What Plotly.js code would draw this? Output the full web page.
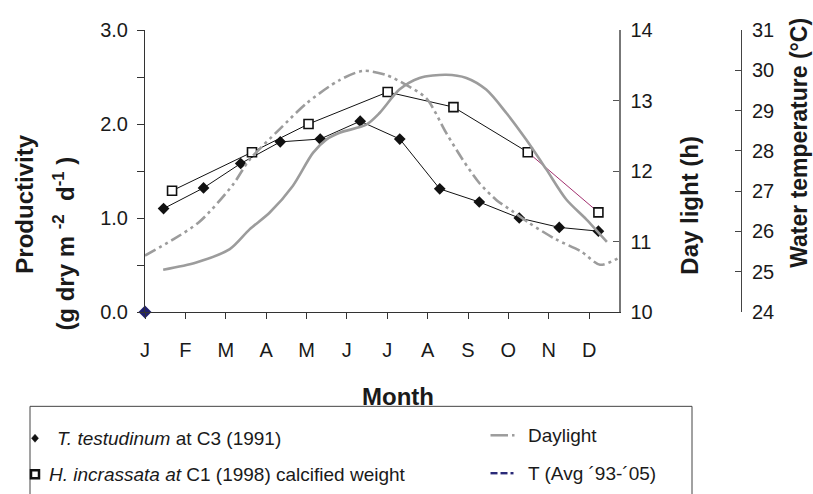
<!DOCTYPE html>
<html>
<head>
<meta charset="utf-8">
<script src="https://cdn.plot.ly/plotly-3.0.1.min.js"></script>
<style>html,body{margin:0;padding:0;background:#fff;}#chart{width:813px;height:494px;}</style>
</head>
<body>
<div id="chart"></div>
<script>
// ---- data (month index units: 0 = start of January) ----
const monthLabels = ['J','F','M','A','M','J','J','A','S','O','N','D'];
const monthTicks = [0,1,2,3,4,5,6,7,8,9,10,11];

const ttMonth = [0.46,1.45,2.37,3.35,4.34,5.33,6.31,7.30,8.28,9.27,10.26,11.23];
const ttProd  = [1.10,1.32,1.58,1.81,1.84,2.03,1.84,1.31,1.17,1.00,0.90,0.86];

const hiMonth = [0.67,2.65,4.05,6.01,7.64,9.48,11.23];
const hiProd  = [1.29,1.70,2.00,2.34,2.18,1.70,1.06];

const dayMonth = [0,0.7,1.35,2.17,2.59,3.33,4.0,4.82,5.4,5.98,6.47,6.97,7.46,7.87,8.28,8.7,9.1,9.52,10.18,10.8,11.27,11.74];
const dayHours = [10.80,11.03,11.28,11.80,12.16,12.59,12.96,13.29,13.42,13.36,13.22,13.03,12.54,12.16,11.83,11.59,11.43,11.26,11.03,10.86,10.67,10.77];

const tempMonth = [0.45,1.27,2.1,2.59,3.09,3.66,4.16,4.49,4.82,5.48,5.81,6.3,6.8,7.46,7.96,8.45,8.95,9.44,9.94,10.43,10.93,11.44];
const tempC     = [25.05,25.23,25.56,26.05,26.47,27.13,27.95,28.28,28.45,28.65,28.94,29.52,29.81,29.89,29.81,29.52,28.94,28.28,27.54,26.8,26.3,25.74];

const strayMonth = [0];
const strayProd = [0];

const prodTicks = [0,0.5,1,1.5,2,2.5,3];
const prodTickText = ['0.0',' ','1.0',' ','2.0',' ','3.0'];

// ---- layout helpers ----
const W = 813, H = 494;
const L = 145, PR = 619, AX3 = 741, T = 30, B = 312.5;
const xp = px => (px - L) / (AX3 - L);
const yp = py => (B - py) / (B - T);

const FONT = 'Arial, "Liberation Sans", sans-serif';
const txt = '#1a1a1a';
const gray = '#9c9c9c';

const nH = hiMonth.length;
const traces = [
  {x: ttMonth, y: ttProd, type: 'scatter', mode: 'lines+markers', xaxis: 'x', yaxis: 'y',
   line: {color: '#111', width: 1}, marker: {symbol: 'diamond', size: 9, color: '#111'}},
  {x: hiMonth.slice(0, nH - 1), y: hiProd.slice(0, nH - 1), type: 'scatter', mode: 'lines', xaxis: 'x', yaxis: 'y',
   line: {color: '#111', width: 1}},
  {x: hiMonth.slice(nH - 2), y: hiProd.slice(nH - 2), type: 'scatter', mode: 'lines', xaxis: 'x', yaxis: 'y',
   line: {color: '#a3306f', width: 1}},
  {x: hiMonth, y: hiProd, type: 'scatter', mode: 'markers', xaxis: 'x', yaxis: 'y',
   marker: {symbol: 'square', size: 9, color: '#fff', line: {color: '#111', width: 1.6}}},
  {x: strayMonth, y: strayProd, type: 'scatter', mode: 'markers', xaxis: 'x', yaxis: 'y', cliponaxis: false,
   marker: {symbol: 'diamond', size: 10, color: '#1f1f6e'}},
  {x: dayMonth, y: dayHours, type: 'scatter', mode: 'lines', xaxis: 'x', yaxis: 'y2',
   line: {color: gray, width: 2.6, shape: 'spline', smoothing: 0.8, dash: '12px,4px,3px,4px,3px,4px'}},
  {x: tempMonth, y: tempC, type: 'scatter', mode: 'lines', xaxis: 'x', yaxis: 'y3',
   line: {color: gray, width: 2.6, shape: 'spline', smoothing: 0.8}}
];

const shapes = [
  // legend box
  {type: 'rect', xref: 'paper', yref: 'paper', x0: xp(30), x1: xp(692), y0: yp(407), y1: yp(520),
   line: {color: '#444', width: 1}, fillcolor: 'rgba(0,0,0,0)'},
  // diamond symbol
  {type: 'path', xref: 'paper', yref: 'paper',
   path: `M ${xp(35)} ${yp(435)} L ${xp(38.5)} ${yp(439)} L ${xp(35)} ${yp(443)} L ${xp(31.5)} ${yp(439)} Z`,
   fillcolor: '#111', line: {color: '#111', width: 0.5}},
  // square symbol
  {type: 'rect', xref: 'paper', yref: 'paper', x0: xp(31), x1: xp(39), y0: yp(479), y1: yp(471),
   fillcolor: '#fff', line: {color: '#111', width: 2.5}},
  // daylight symbol
  {type: 'line', xref: 'paper', yref: 'paper', x0: xp(490.5), x1: xp(508), y0: yp(436), y1: yp(436),
   line: {color: gray, width: 2.5}},
  {type: 'line', xref: 'paper', yref: 'paper', x0: xp(512), x1: xp(514.5), y0: yp(436), y1: yp(436),
   line: {color: gray, width: 2.5}},
  // T symbol
  {type: 'line', xref: 'paper', yref: 'paper', x0: xp(490.5), x1: xp(497.5), y0: yp(474), y1: yp(474),
   line: {color: '#2a2a78', width: 2.4}},
  {type: 'line', xref: 'paper', yref: 'paper', x0: xp(500.5), x1: xp(507.5), y0: yp(474), y1: yp(474),
   line: {color: '#2a2a78', width: 2.4}},
  {type: 'line', xref: 'paper', yref: 'paper', x0: xp(510.5), x1: xp(513.5), y0: yp(474), y1: yp(474),
   line: {color: '#2a2a78', width: 2.4}}
];

const ann = (text, x, y, opts) => Object.assign({
  text: text, xref: 'paper', yref: 'paper', x: xp(x), y: yp(y), showarrow: false,
  xanchor: 'center', yanchor: 'middle', font: {family: FONT, size: 24, color: txt}
}, opts || {});

const legFont = {family: FONT, size: 19, color: txt};
const annotations = [
  ann('<b>Month</b>', 398, 397),
  ann('<b>Productivity</b>', 25, 205, {textangle: -90}),
  ann('<b>(g dry m <sup>-2</sup>  d<sup>-1</sup> )</b>', 64, 244, {textangle: -90}),
  ann('<b>Day light (h)</b>', 690, 206, {textangle: -90}),
  ann('<b>Water temperature (°C)</b>', 799, 143, {textangle: -90, font: {family: FONT, size: 23, color: txt}}),
  ann('<i>T. testudinum</i> at C3 (1991)', 55, 439, {xanchor: 'left', font: legFont}),
  ann('<i>H. incrassata at</i> C1 (1998) calcified weight', 47, 475, {xanchor: 'left', font: legFont}),
  ann('Daylight', 526, 436, {xanchor: 'left', font: legFont}),
  ann('T (Avg ´93-´05)', 526, 474, {xanchor: 'left', font: legFont})
];

const tickFont = {family: FONT, size: 20, color: txt};

const layout = {
  width: W, height: H,
  margin: {l: L, r: W - AX3, t: T, b: H - B, autoexpand: false},
  paper_bgcolor: '#fff', plot_bgcolor: '#fff',
  showlegend: false,
  xaxis: {domain: [0, xp(PR)], range: [0, 11.74], tickvals: monthTicks, ticktext: monthLabels, ticks: 'outside', ticklen: 6,
    tickcolor: '#333', showline: true, linecolor: '#333', linewidth: 1, showgrid: false, zeroline: false,
    tickfont: tickFont, ticklabelstandoff: 14},
  yaxis: {range: [0, 3], tickvals: prodTicks, ticktext: prodTickText, ticks: 'outside', ticklen: 7,
    tickcolor: '#333', showline: true, linecolor: '#333', linewidth: 1, showgrid: false, zeroline: false,
    tickfont: tickFont, ticklabelstandoff: 5},
  yaxis2: {range: [10, 14], dtick: 1, overlaying: 'y', side: 'right', anchor: 'x', ticks: 'inside', ticklen: 6,
    tickcolor: '#555', showline: true, linecolor: '#777', linewidth: 1.5, showgrid: false, zeroline: false,
    tickfont: tickFont, ticklabelstandoff: 6},
  yaxis3: {range: [24, 31], dtick: 1, overlaying: 'y', side: 'right', anchor: 'free', position: 1,
    ticks: 'inside', ticklen: 6, tickcolor: '#444', showline: true, linecolor: '#444', linewidth: 1,
    showgrid: false, zeroline: false, tickfont: tickFont, ticklabelstandoff: 6},
  shapes: shapes,
  annotations: annotations
};

Plotly.newPlot('chart', traces, layout, {displayModeBar: false, staticPlot: true});
</script>
</body>
</html>
